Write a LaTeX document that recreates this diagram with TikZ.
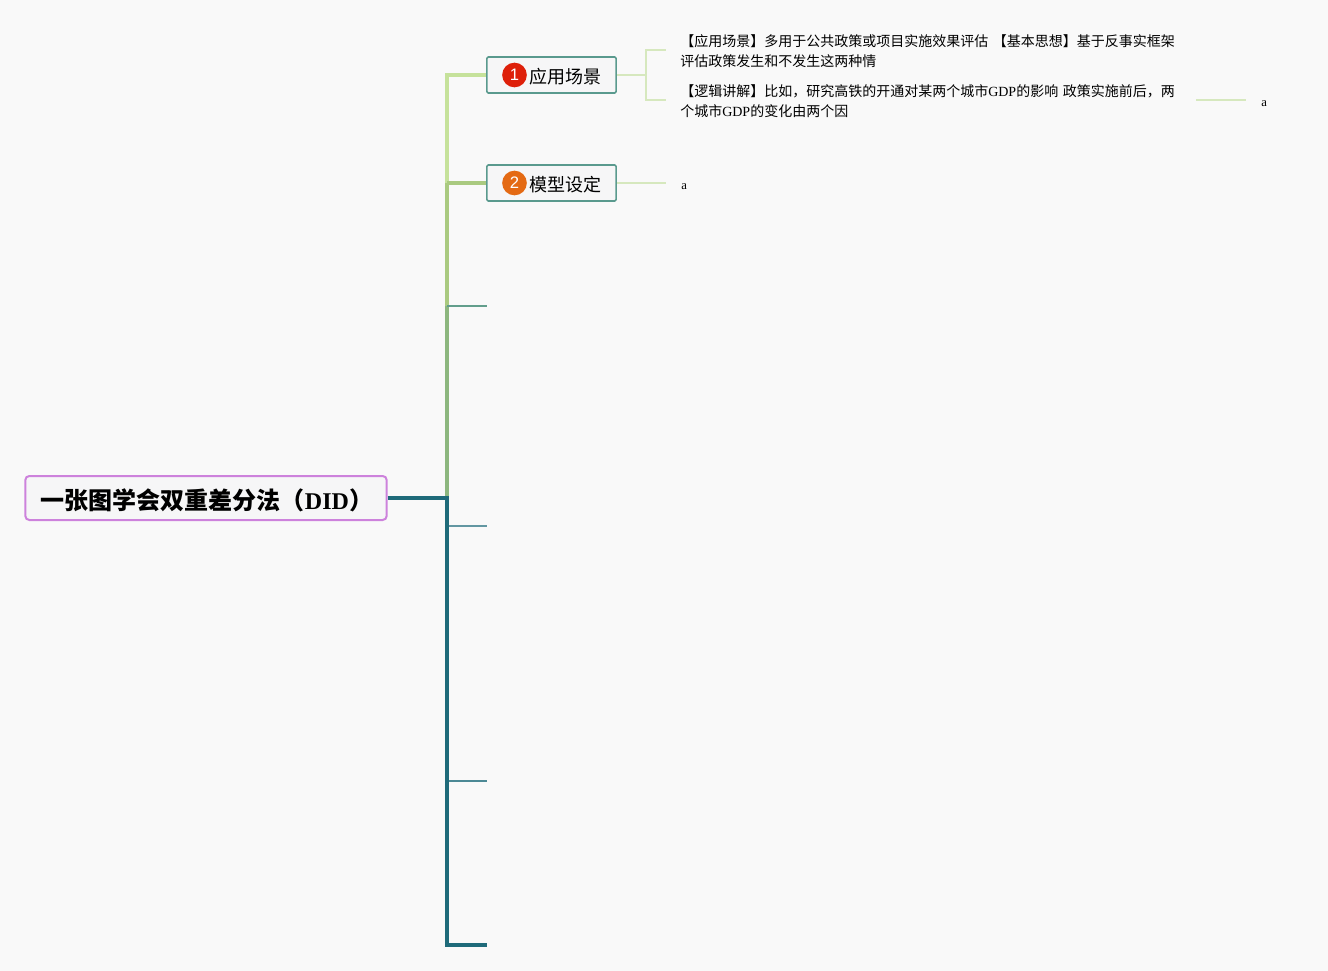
\documentclass[tikz,border=0pt]{standalone}
\usepackage{fontspec}
\setmainfont{Liberation Serif}
\newfontfamily\cjk{Noto Sans CJK SC}
\newfontfamily\dotfont{Liberation Sans}
\usepackage{xcolor}
\usetikzlibrary{positioning}
\definecolor{DIDpage}{RGB}{249,249,249}
\definecolor{DIDfill}{RGB}{246,246,247}
\definecolor{DIDteal}{RGB}{31,107,122}
\definecolor{DIDbox}{RGB}{90,154,142}
\definecolor{DIDroot}{RGB}{205,130,220}
\definecolor{DIDleaf}{RGB}{214,232,190}
\definecolor{DIDa}{RGB}{198,226,155}
\definecolor{DIDb}{RGB}{170,202,128}
\definecolor{DIDc}{RGB}{141,183,127}
\definecolor{DIDred}{RGB}{222,32,10}
\definecolor{DIDorange}{RGB}{228,106,20}

\begin{document}
\begin{tikzpicture}[x=.75pt,y=-.75pt,
 root/.style={draw=DIDroot,line width=1.5pt,rounded corners=3pt,fill=DIDfill,minimum width=271pt,minimum height=33pt,inner sep=0pt,text height=18pt,text depth=1.4pt,font=\fontsize{18}{20}\selectfont\bfseries},
 topic/.style={draw=DIDbox,line width=1.2pt,rounded corners=1pt,fill=DIDfill,minimum width=97pt,minimum height=27pt,inner sep=0pt,text height=13pt,text depth=1pt,font=\fontsize{13.5}{16}\selectfont},
 numdot/.style={circle,minimum size=18.5pt,inner sep=0pt,text=white,font=\dotfont\fontsize{12.5}{14}\selectfont},
 leaf/.style={anchor=west,inner xsep=10.5pt,inner ysep=0pt,text width=376.5pt,align=left,font=\fontsize{10.5}{15}\selectfont},
 tiny/.style={anchor=west,inner xsep=11.25pt,inner ysep=0pt,text height=9pt,text depth=0pt,font=\fontsize{9.5}{12}\selectfont},
 twig/.style={draw=DIDleaf,line width=1pt}]
\useasboundingbox[fill=DIDpage] (0,0) rectangle (1328,971);
\node[root] (r) at (206,498) {\hspace*{1.5pt}{\cjk 一张图学会双重差分法（}DID{\cjk ）}};
\node[topic] (b1) at (551.5,75) {\hspace*{20.25pt}{\cjk 应用场景}};
\node[topic] (b2) at (551.5,183) {\hspace*{20.25pt}{\cjk 模型设定}};
\node[numdot,fill=DIDred] (n1) at (514.5,75) {1};
\node[numdot,fill=DIDorange] (n2) at (514.5,183) {2};
\node[leaf] (l1) at (666,51) {{\cjk 【应用场景】多用于公共政策或项目实施效果评估 【基本思想】基于反事实框架\\评估政策发生和不发生这两种情}};
\node[leaf] (l2) at (666,101) {{\cjk 【逻辑讲解】比如，研究高铁的开通对某两个城市}GDP{\cjk 的影响 政策实施前后，两\\个城市}GDP{\cjk 的变化由两个因}};
\node[tiny] (a1) at (666,183) {a};
\node[tiny] (a2) at (1246,100) {a};
\coordinate (h) at (447,498);
\coordinate (t1) at (447,75);
\coordinate (t2) at (447,183);
\coordinate (t3) at (447,306);
\coordinate (t4) at (447,526);
\coordinate (t5) at (447,781);
\coordinate (t6) at (447,945);
\coordinate (e3) at (487,306);
\coordinate (e4) at (487,526);
\coordinate (e5) at (487,781);
\coordinate (e6) at (487,945);
\coordinate (j) at (646,75);
\coordinate (k1) at (666,50);
\coordinate (k2) at (666,100);
\coordinate (k3) at (1196,100);
\draw[DIDc,line width=2.6pt] (h)--(t3);
\draw[DIDb,line width=2.6pt] (t3)--(t2);
\draw[DIDa,line width=3pt] (t2)--(t1)--(b1.west);
\draw[DIDb,line width=2.6pt] (t2)--(b2.west);
\draw[DIDbox!85!DIDc,line width=1.1pt] (t3)--(e3);
\draw[DIDteal!70!white,line width=1.1pt] (t4)--(e4);
\draw[DIDteal!80!white,line width=1.1pt] (t5)--(e5);
\draw[DIDteal,line width=3pt] (r.east)--(h)--(t6)--(e6);
\draw[twig] (b1.east)--(j);
\draw[twig] (j)|-(k1);
\draw[twig] (j)|-(k2);
\draw[twig] (b2.east)--(a1.west);
\draw[twig] (k3)--(a2.west);
\end{tikzpicture}
\end{document}
